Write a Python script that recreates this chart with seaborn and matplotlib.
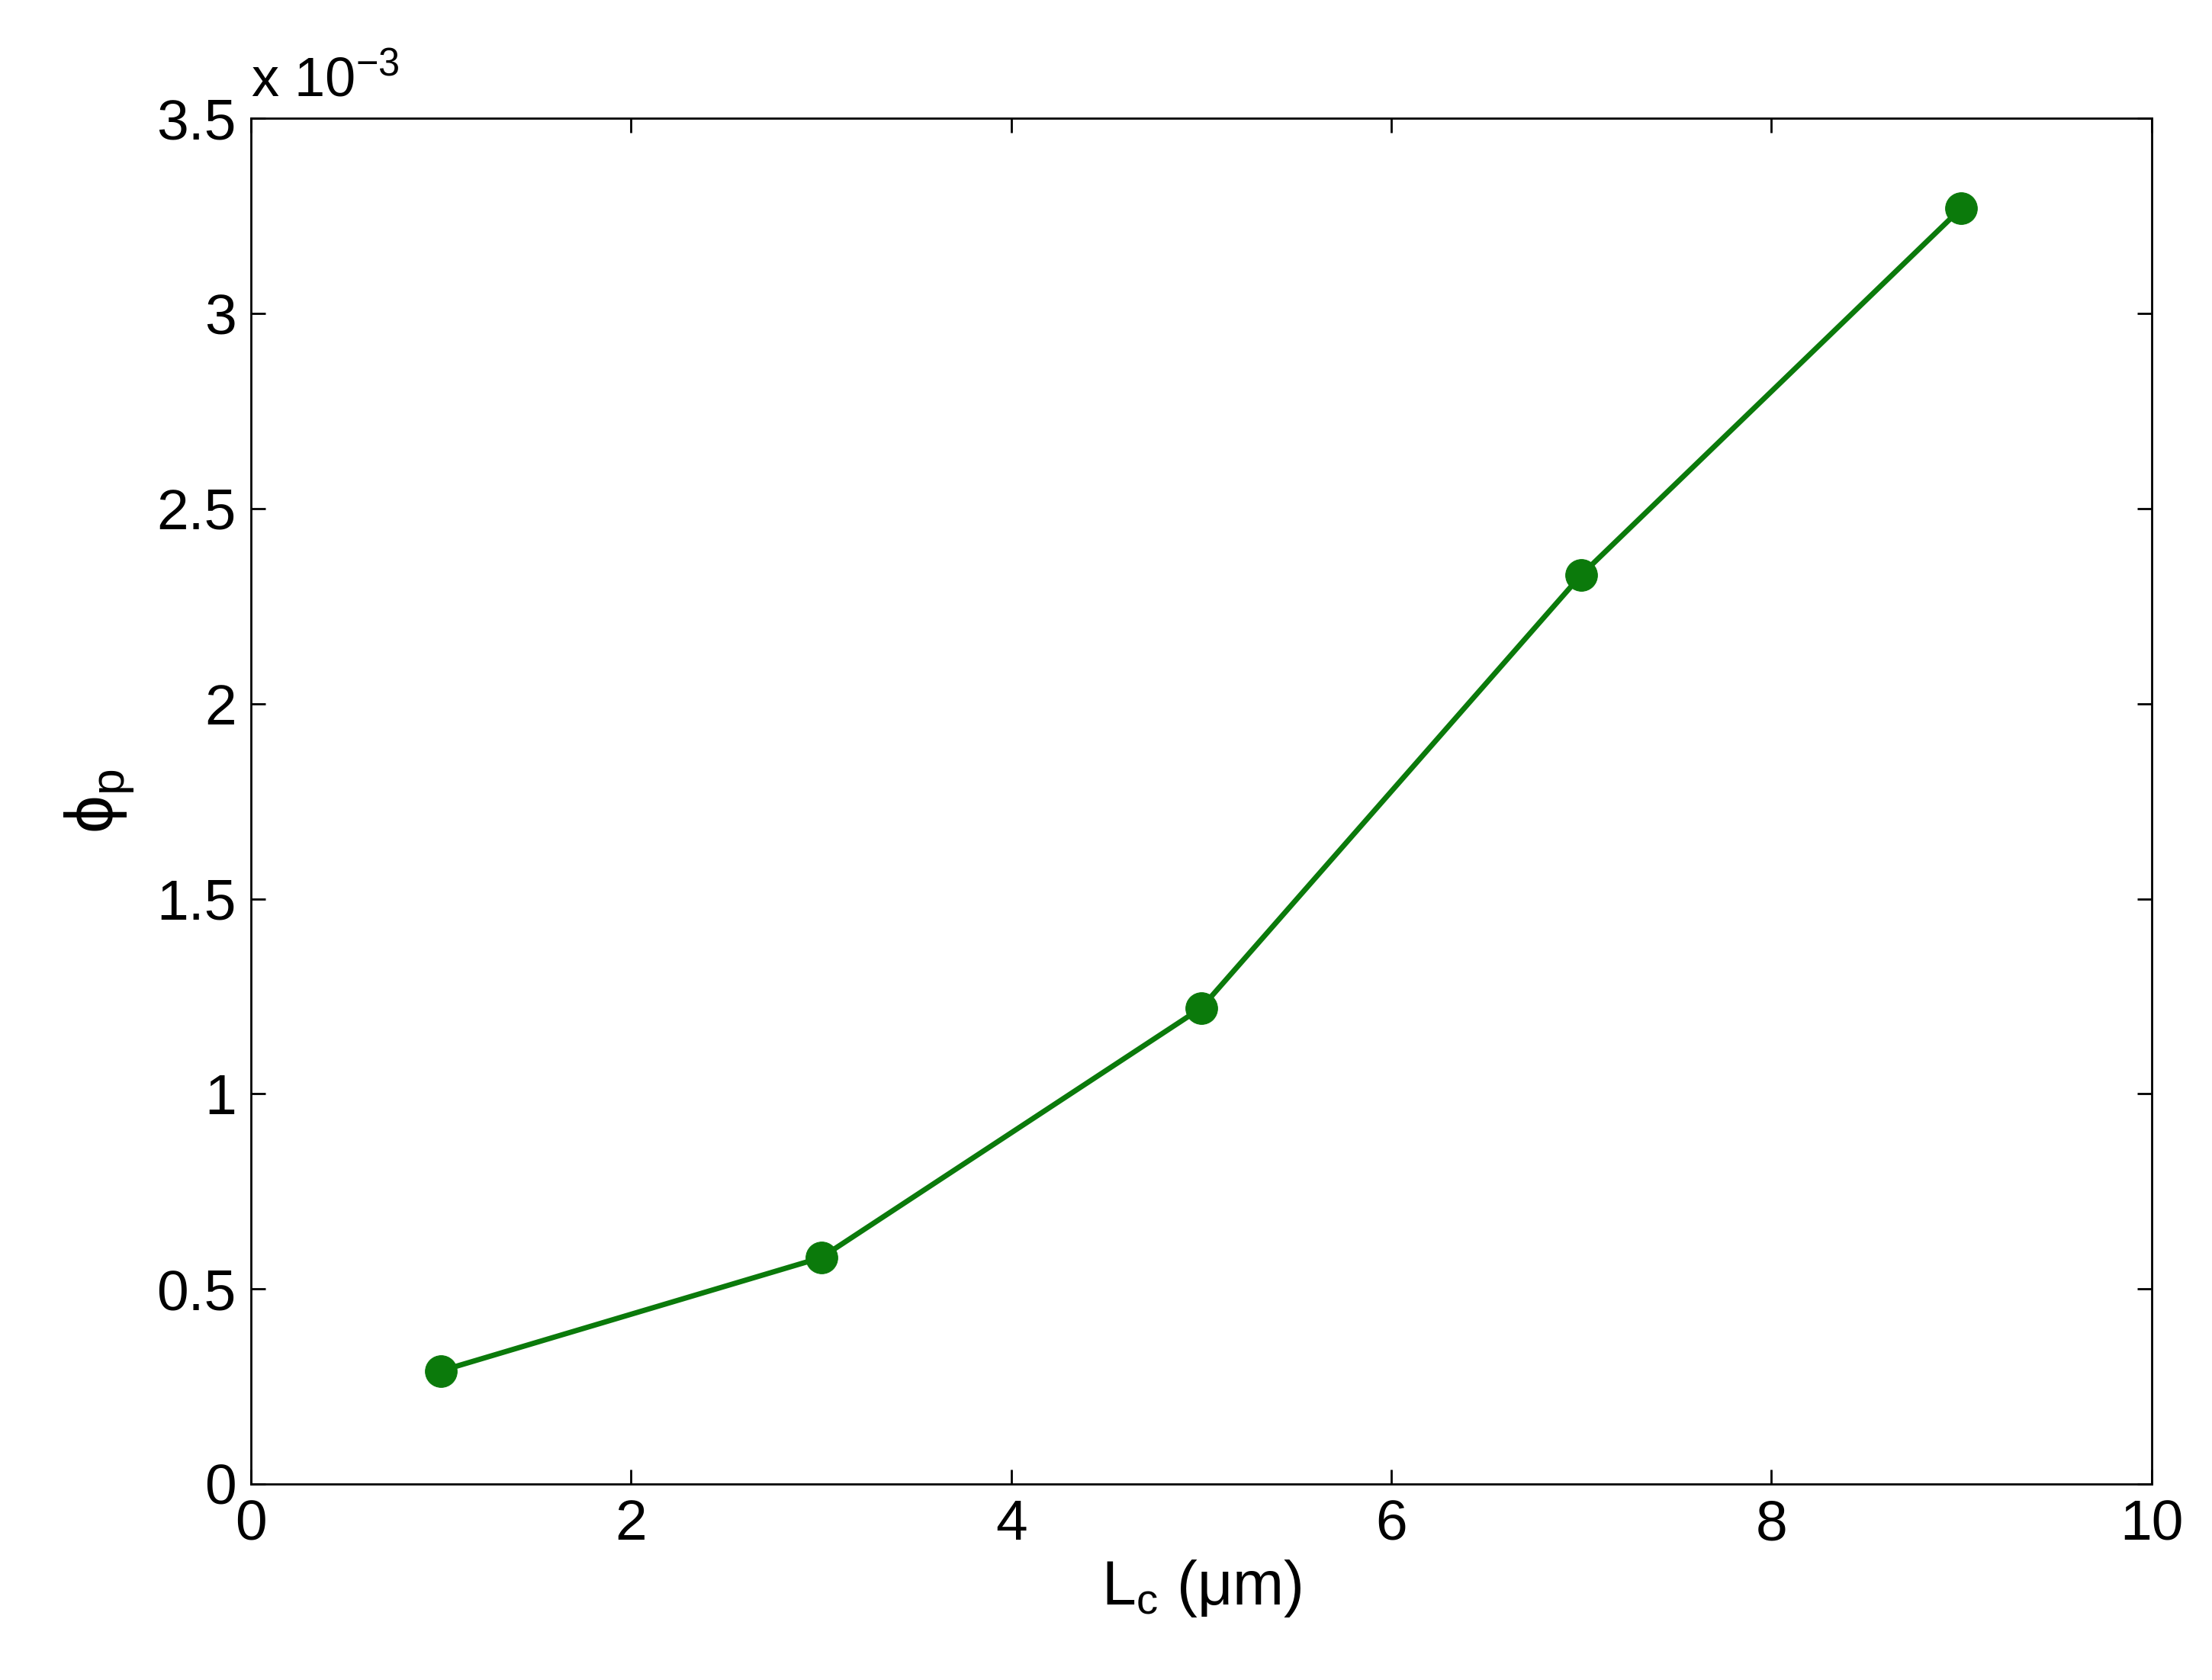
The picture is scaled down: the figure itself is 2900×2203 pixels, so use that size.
import matplotlib
matplotlib.use("Agg")
import matplotlib.pyplot as plt
import seaborn as sns
import pandas as pd

lc = [1, 3, 5, 7, 9]
phi = [0.29, 0.58, 1.22, 2.33, 3.27]  # x 10^-3
xticks = [0, 2, 4, 6, 8, 10]
yticks = [0, 0.5, 1, 1.5, 2, 2.5, 3, 3.5]

sns.set_style("ticks")
plt.rcParams['font.family'] = ['Liberation Sans', 'DejaVu Sans']
plt.rcParams['mathtext.fontset'] = 'custom'
plt.rcParams['mathtext.rm'] = 'Liberation Sans'
plt.rcParams['mathtext.it'] = 'Liberation Sans'
plt.rcParams['text.color'] = 'black'
plt.rcParams['axes.labelcolor'] = 'black'
plt.rcParams['xtick.color'] = 'black'
plt.rcParams['ytick.color'] = 'black'
plt.rcParams['axes.edgecolor'] = 'black'

fig = plt.figure(figsize=(29, 22.03), dpi=100)
ax = fig.add_axes([0.1135, 0.1167, 0.8591, 0.8128])
df = pd.DataFrame({"x": lc, "y": phi})
sns.lineplot(data=df, x="x", y="y", ax=ax, color="#0b7a0b", lw=5,
             marker="o", markersize=30, markeredgecolor="#0b7a0b")
ax.set_xlim(0, 10); ax.set_ylim(0, 3.5)
ax.set_xticks(xticks); ax.set_yticks(yticks)
ax.set_xticklabels([str(t) for t in xticks])
ax.set_yticklabels(["0", "0.5", "1", "1.5", "2", "2.5", "3", "3.5"])
ax.tick_params(direction="in", length=14, width=2, labelsize=54, top=True, right=True, pad=14)
for s in ax.spines.values():
    s.set_linewidth(2)
ax.set_xlabel(r"L$_\mathregular{c}$ (μm)", fontsize=58, labelpad=6)
ax.set_ylabel(r"ϕ$_\mathregular{p}$", fontsize=64, labelpad=20)
ax.text(0.0, 1.008, r"x 10$^\mathregular{-3}$", transform=ax.transAxes, fontsize=52, ha="left", va="bottom")
fig.savefig("out.png", dpi=100)
